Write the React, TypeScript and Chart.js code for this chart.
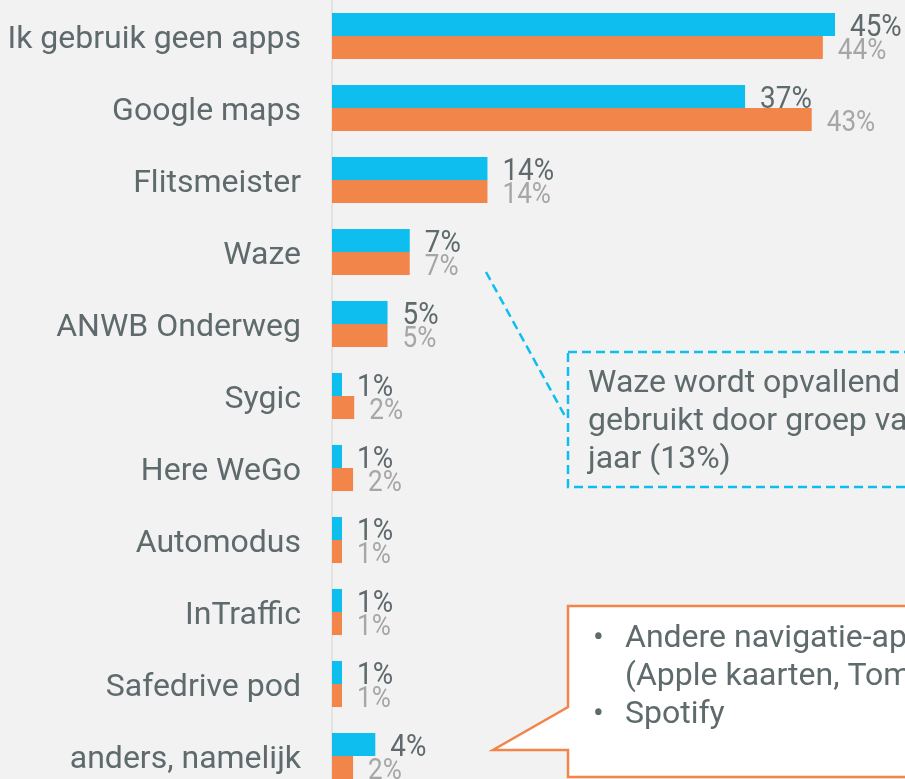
import React, { useEffect, useRef } from 'react';
import { Chart, registerables } from 'chart.js';

Chart.register(...registerables);

const categories = [
  'Ik gebruik geen apps',
  'Google maps',
  'Flitsmeister',
  'Waze',
  'ANWB Onderweg',
  'Sygic',
  'Here WeGo',
  'Automodus',
  'InTraffic',
  'Safedrive pod',
  'anders, namelijk',
];
const seriesBlue = [45.3, 37.2, 14.0, 7.0, 5.0, 0.9, 0.9, 0.9, 0.9, 0.9, 3.9];
const seriesOrange = [44.2, 43.2, 14.0, 7.0, 5.0, 2.0, 1.9, 0.9, 0.9, 0.9, 1.9];
const labelsBlue = ['45%', '37%', '14%', '7%', '5%', '1%', '1%', '1%', '1%', '1%', '4%'];
const labelsOrange = ['44%', '43%', '14%', '7%', '5%', '2%', '2%', '1%', '1%', '1%', '2%'];
const noteWaze = ['Waze wordt opvallend', 'gebruikt door groep van', 'jaar (13%)'];
const noteOther = ['Andere navigatie-apps', '(Apple kaarten, TomTom)', 'Spotify'];

const BLUE = '#0DBEEE';
const ORANGE = '#F2854A';
const TEXT = '#5E6A6C';
const LIGHT = '#A6A6A6';
const FONT = 'Roboto, "DejaVu Sans", sans-serif';

const valueLabels = {
  id: 'valueLabels',
  afterDatasetsDraw(chart: any) {
    const ctx = chart.ctx;
    [0, 1].forEach((di) => {
      const meta = chart.getDatasetMeta(di);
      meta.data.forEach((bar: any, i: number) => {
        const p = bar.getProps(['x', 'y', 'height'], true);
        const text = di === 0 ? labelsBlue[i] : labelsOrange[i];
        ctx.save();
        ctx.font = `${di === 0 ? 32 : 30}px ${FONT}`;
        ctx.fillStyle = di === 0 ? TEXT : LIGHT;
        ctx.textBaseline = 'alphabetic';
        ctx.textAlign = 'left';
        ctx.translate(p.x + 15, p.y + p.height / 2);
        ctx.scale(0.87, 1);
        ctx.fillText(text, 0, 0);
        ctx.restore();
      });
    });
  },
};

const notes = {
  id: 'notes',
  afterDraw(chart: any) {
    const ctx = chart.ctx;
    ctx.save();
    // dashed connector + box
    ctx.strokeStyle = BLUE;
    ctx.lineWidth = 2.5;
    ctx.setLineDash([9, 5]);
    ctx.beginPath();
    ctx.moveTo(486, 272);
    ctx.lineTo(566, 418);
    ctx.stroke();
    ctx.strokeRect(568, 352, 500, 135);
    ctx.setLineDash([]);

    ctx.font = `32px ${FONT}`;
    ctx.fillStyle = TEXT;
    ctx.textBaseline = 'alphabetic';
    ctx.textAlign = 'left';
    noteWaze.forEach((t, i) => ctx.fillText(t, 588, 392 + i * 38));

    // callout
    ctx.beginPath();
    ctx.moveTo(568, 606);
    ctx.lineTo(1000, 606);
    ctx.lineTo(1000, 777);
    ctx.lineTo(568, 777);
    ctx.lineTo(568, 750);
    ctx.lineTo(493, 750);
    ctx.lineTo(568, 707);
    ctx.closePath();
    ctx.fillStyle = '#FFFFFF';
    ctx.fill();
    ctx.strokeStyle = ORANGE;
    ctx.lineWidth = 2.5;
    ctx.lineJoin = 'miter';
    ctx.stroke();

    ctx.fillStyle = TEXT;
    ctx.font = `32px ${FONT}`;
    ctx.fillText('•', 593, 647);
    ctx.fillText('•', 593, 723);
    ctx.fillText(noteOther[0], 625, 647);
    ctx.fillText(noteOther[1], 625, 685);
    ctx.fillText(noteOther[2], 625, 723);
    ctx.restore();
  },
};

export default function App() {
  const ref = useRef<HTMLCanvasElement | null>(null);
  useEffect(() => {
    if (!ref.current) return;
    const chart = new Chart(ref.current, {
      type: 'bar',
      data: {
        labels: categories,
        datasets: [
          {
            data: seriesBlue,
            backgroundColor: BLUE,
            borderWidth: 0,
            barPercentage: 1,
            categoryPercentage: 0.64,
          },
          {
            data: seriesOrange,
            backgroundColor: ORANGE,
            borderWidth: 0,
            barPercentage: 1,
            categoryPercentage: 0.64,
          },
        ],
      },
      options: {
        indexAxis: 'y',
        animation: false,
        responsive: false,
        layout: { padding: 0 },
        plugins: {
          legend: { display: false },
          tooltip: { enabled: false },
          title: { display: false },
        },
        scales: {
          x: { display: false, min: 0, max: 51.6 },
          y: {
            grid: { display: false, drawTicks: false },
            border: { display: true, color: '#E2E2E2', width: 2 },
            ticks: {
              color: TEXT,
              font: { family: FONT, size: 32 },
              padding: 31,
              labelOffset: 4,
              autoSkip: false,
            },
            afterFit(scale: any) {
              scale.width = 332;
              scale.paddingTop = 0;
              scale.paddingBottom = 0;
            },
          },
        },
      },
      plugins: [valueLabels, notes],
    });
    return () => chart.destroy();
  }, []);

  return (
    <div
      style={{
        position: 'fixed',
        left: 0,
        top: 0,
        width: 905,
        height: 779,
        overflow: 'hidden',
        background: '#F2F2F2',
      }}
    >
      <canvas ref={ref} width={905} height={792} style={{ display: 'block', width: 905, height: 792 }} />
    </div>
  );
}
